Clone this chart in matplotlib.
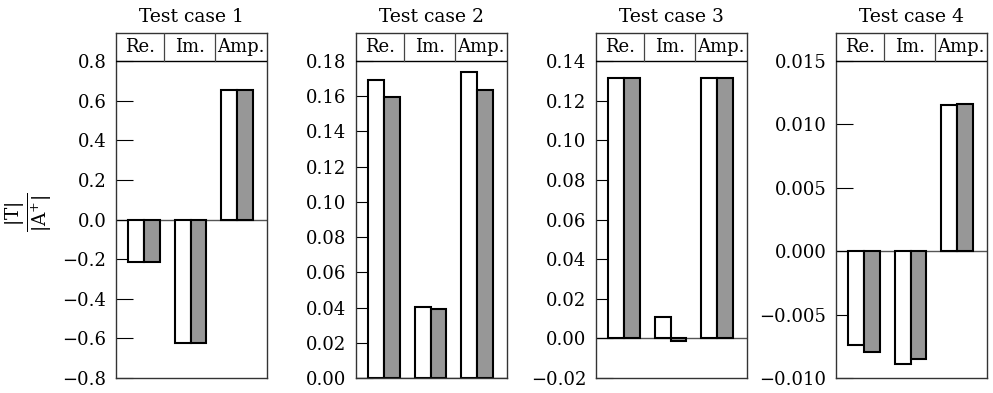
import matplotlib
matplotlib.use("Agg")
import matplotlib.pyplot as plt
import numpy as np

plt.rcParams['font.family'] = ['DejaVu Serif']
plt.rcParams['mathtext.fontset'] = 'dejavuserif'

titles = ["Test case 1", "Test case 2", "Test case 3", "Test case 4"]
categories = ["Re.", "Im.", "Amp."]

# white bars (first series) and gray bars (second series) per test case
case1_white = [-0.214, -0.621, 0.655]
case1_gray = [-0.214, -0.621, 0.655]
case2_white = [0.1694, 0.0404, 0.1738]
case2_gray = [0.1594, 0.0390, 0.1637]
case3_white = [0.1312, 0.0107, 0.1312]
case3_gray = [0.1312, -0.0012, 0.1312]
case4_white = [-0.00737, -0.00892, 0.01155]
case4_gray = [-0.00793, -0.00852, 0.01162]

whites = [case1_white, case2_white, case3_white, case4_white]
grays = [case1_gray, case2_gray, case3_gray, case4_gray]

yticks1 = [-0.8, -0.6, -0.4, -0.2, 0.0, 0.2, 0.4, 0.6, 0.8]
yticks2 = [0.00, 0.02, 0.04, 0.06, 0.08, 0.10, 0.12, 0.14, 0.16, 0.18]
yticks3 = [-0.02, 0.00, 0.02, 0.04, 0.06, 0.08, 0.10, 0.12, 0.14]
yticks4 = [-0.010, -0.005, 0.000, 0.005, 0.010, 0.015]
yticks_all = [yticks1, yticks2, yticks3, yticks4]
decimals = [1, 2, 2, 3]

fig = plt.figure(figsize=(9.93, 3.93), dpi=100)
lefts = [116, 356, 596, 836]
W, H = 993, 393
ax_w = 151
top_px, bot_px = 33, 378
header_px = 28
col_bounds = [0.0, 0.32, 0.655, 1.0]

for i in range(4):
    ax = fig.add_axes([lefts[i] / W, 1 - bot_px / H, ax_w / W, (bot_px - top_px) / H])
    x = np.arange(len(categories))
    bw = 0.34
    ax.bar(x - bw / 2, whites[i], width=bw, color='white', edgecolor='black', linewidth=1.5, zorder=2)
    ax.bar(x + bw / 2, grays[i], width=bw, color='#979797', edgecolor='black', linewidth=1.5, zorder=2)
    yt = yticks_all[i]
    lo, hi = yt[0], yt[-1]
    data_px = (bot_px - top_px) - header_px
    top = hi + (hi - lo) * header_px / data_px
    ax.set_ylim(lo, top)
    ax.set_xlim(-0.6, 2.64)
    ax.axhline(0, color='#555555', lw=1.0, zorder=1)
    ax.axhline(hi, color='black', lw=1.0, zorder=3)
    yf = (hi - lo) / (top - lo)
    for cb in col_bounds[1:-1]:
        ax.plot([cb, cb], [yf, 1], transform=ax.transAxes, color='#444444', lw=0.9, zorder=3)
    for j, cat in enumerate(categories):
        cx = (col_bounds[j] + col_bounds[j + 1]) / 2
        ax.text(cx, (yf + 1) / 2, cat, transform=ax.transAxes, ha='center', va='center', fontsize=13)
    ax.set_yticks(yt)
    ax.set_yticklabels([(f"{v:.{decimals[i]}f}").replace('-', '\u2212') for v in yt])
    ax.set_xticks([])
    ax.tick_params(axis='y', direction='in', length=12.5, width=0.8, labelsize=13, pad=7)
    for s in ax.spines.values():
        s.set_linewidth(1.0)
        s.set_color('#333333')
    ax.set_title(titles[i], fontsize=13.5, pad=8)

fig.text(0.029, 0.46, r'$\frac{|\mathrm{T}|}{|\mathrm{A}^{+}|}$', rotation=90, ha='center', va='center', fontsize=19)

fig.savefig('out.png', dpi=100)
